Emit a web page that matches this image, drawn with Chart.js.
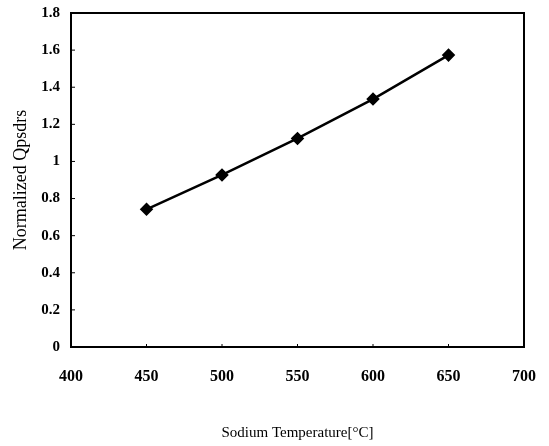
<!DOCTYPE html>
<html>
<head>
<meta charset="utf-8">
<script src="https://cdn.jsdelivr.net/npm/chart.js@4/dist/chart.umd.min.js"></script>
<style>
  html, body { margin: 0; padding: 0; background: #fff; }
  #wrap { width: 549px; height: 446px; }
</style>
</head>
<body>
<div id="wrap"><canvas id="qChart" width="549" height="446"></canvas></div>
<script>
const temps = [450, 500, 550, 600, 650];
const qpsdrs = [0.742, 0.927, 1.124, 1.336, 1.573];
const xTicks = [400, 450, 500, 550, 600, 650, 700];
const yTicks = [0, 0.2, 0.4, 0.6, 0.8, 1, 1.2, 1.4, 1.6, 1.8];

const ctx = document.getElementById("qChart");
const serif = "'Liberation Serif', 'Times New Roman', serif";

// box round the plot + small inward ticks
const frame = {
  id: "frame",
  afterDraw(chart) {
    const { ctx, chartArea: a, scales } = chart;
    ctx.save();
    ctx.strokeStyle = "#000";
    ctx.lineWidth = 2;
    ctx.strokeRect(a.left, a.top, a.right - a.left, a.bottom - a.top);
    ctx.lineWidth = 1;
    ctx.beginPath();
    yTicks.forEach(v => {
      const y = scales.y.getPixelForValue(v);
      ctx.moveTo(a.left, y);
      ctx.lineTo(a.left + 4, y);
    });
    xTicks.forEach(v => {
      const x = scales.x.getPixelForValue(v);
      ctx.moveTo(x, a.bottom);
      ctx.lineTo(x, a.bottom - 3);
    });
    ctx.stroke();
    ctx.restore();
  }
};

new Chart(ctx, {
  type: "line",
  data: {
    datasets: [{
      data: temps.map((t, i) => ({ x: t, y: qpsdrs[i] })),
      borderColor: "#000",
      backgroundColor: "#000",
      borderWidth: 2.5,
      pointStyle: "rectRot",
      pointRadius: 5,
      fill: false,
      tension: 0
    }]
  },
  options: {
    responsive: false,
    animation: false,
    layout: { padding: { top: 13, right: 25, left: 6, bottom: 0 } },
    plugins: { legend: { display: false }, tooltip: { enabled: false } },
    scales: {
      x: {
        type: "linear",
        min: 400,
        max: 700,
        afterBuildTicks(scale) { scale.ticks = xTicks.map(v => ({ value: v })); },
        afterFit(scale) {
          scale.height = 99;
          scale.paddingLeft = 0;
          scale.paddingRight = 0;
        },
        grid: { display: false, drawTicks: false },
        border: { display: false },
        ticks: { color: "#000", padding: 20, maxRotation: 0,
                 font: { family: serif, size: 16, weight: "bold" },
                 callback: v => String(v) },
        title: {
          display: true,
          text: "Sodium Temperature[°C]",
          color: "#000",
          font: { family: serif, size: 15 },
          padding: { top: 40 }
        }
      },
      y: {
        min: 0,
        max: 1.8,
        afterBuildTicks(scale) { scale.ticks = yTicks.map(v => ({ value: v })); },
        afterFit(scale) {
          scale.width = 65;
          scale.paddingTop = 0;
          scale.paddingBottom = 0;
        },
        grid: { display: false, drawTicks: false },
        border: { display: false },
        ticks: { color: "#000", padding: 11,
                 font: { family: serif, size: 15, weight: "bold" },
                 callback: v => String(v) },
        title: {
          display: true,
          text: "Normalized Qpsdrs",
          color: "#000",
          font: { family: serif, size: 18 },
          padding: { bottom: 0 }
        }
      }
    }
  },
  plugins: [frame]
});
</script>
</body>
</html>
